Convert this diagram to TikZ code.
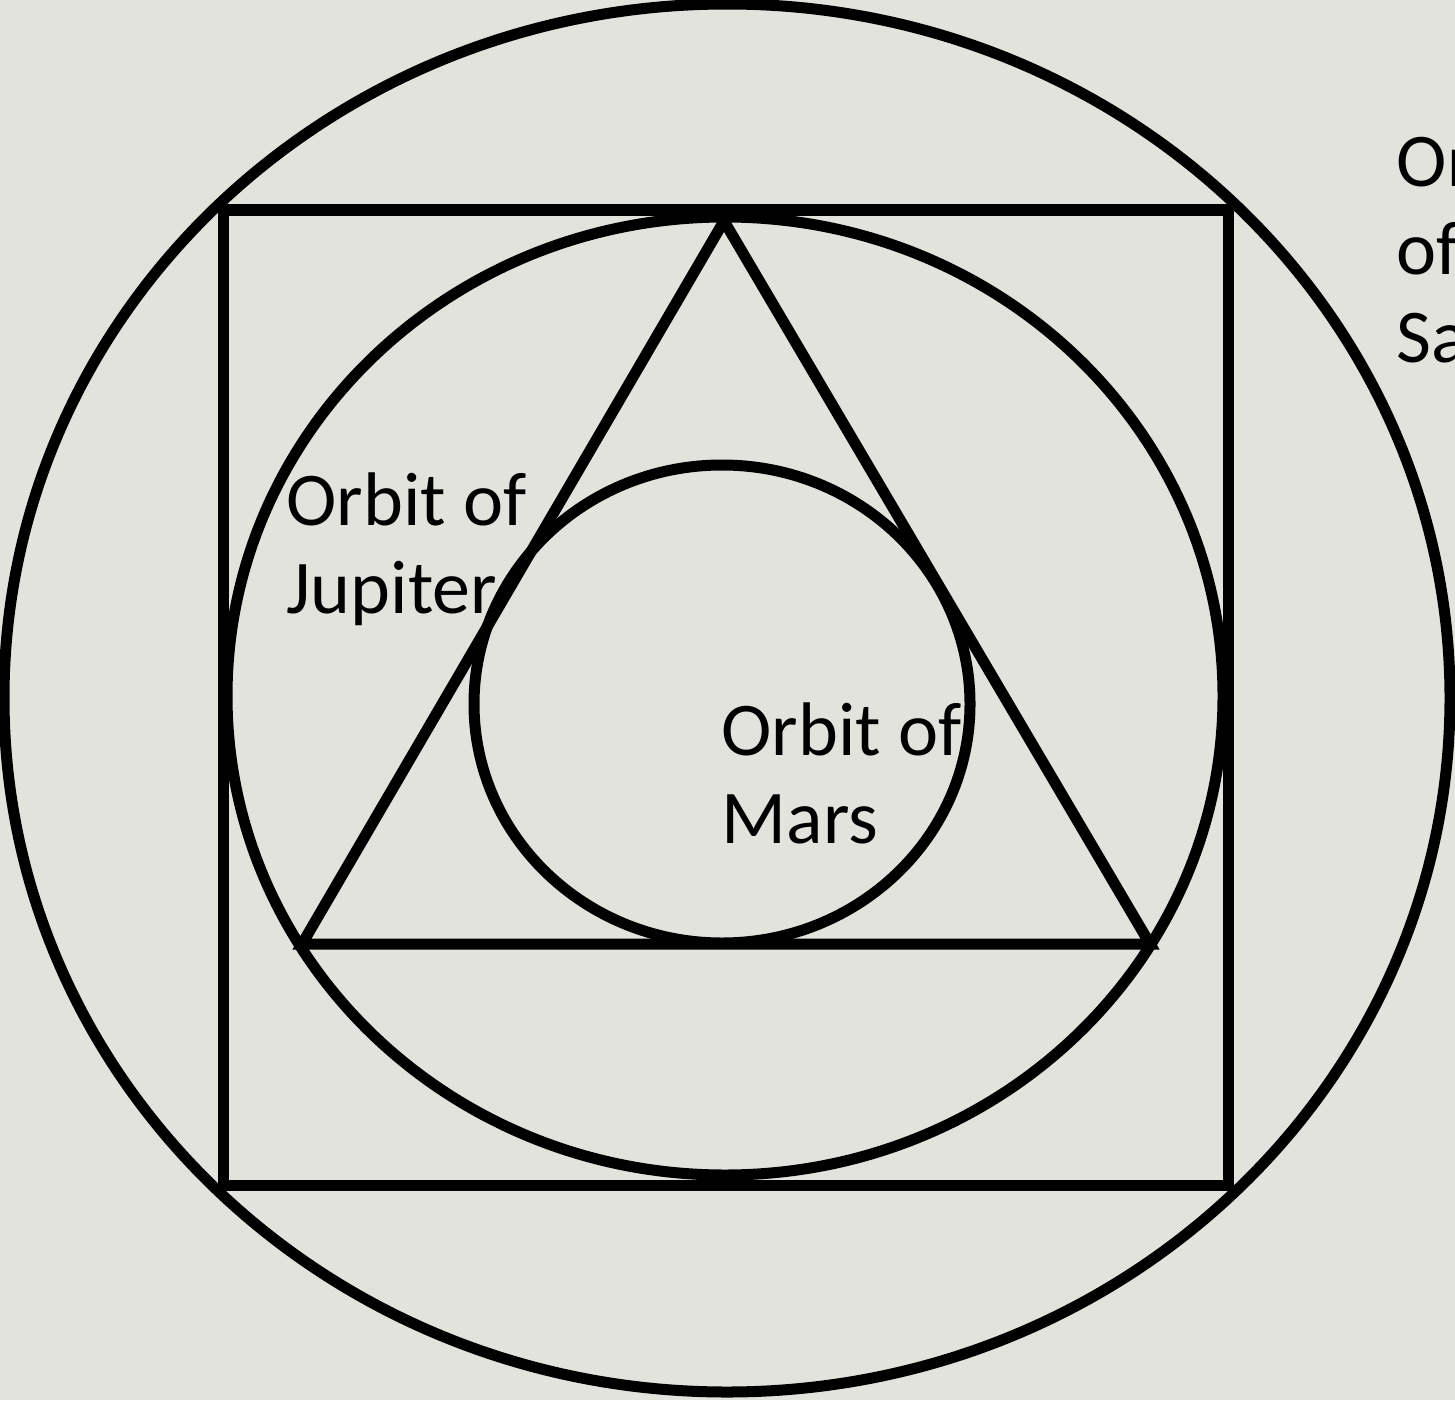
\documentclass[tikz,border=0pt]{standalone}
\usepackage{fontspec}
\setmainfont{Carlito}
\usepackage{xcolor}
\usepackage{tikz}
\usetikzlibrary{positioning}

\definecolor{paper}{RGB}{226,227,220}

\begin{document}
\begin{tikzpicture}[
    x=0.01cm, y=-0.01cm,
    orbit/.style={draw=black, line width=0.11cm},
    label/.style={anchor=base west, align=left, inner sep=0pt,
        font=\fontsize{21.6pt}{25pt}\selectfont},
]
    \useasboundingbox (0,0) rectangle (1455,1400);
    \fill[paper] (0,0) rectangle (1455,1400);
    \clip (0,0) rectangle (1455,1400);

    \draw[orbit] (727,698) ellipse [x radius=723, y radius=694];
    \draw[orbit] (223,210) rectangle (1228,1185);
    \draw[orbit] (725,696) ellipse [x radius=498, y radius=479];
    \draw[orbit] (724,221) -- (1150,944) -- (302,944) -- cycle;
    \draw[orbit] (722,704) ellipse [x radius=248, y radius=239];

    \node[label] (jupiter) at (286,613) {Orbit of\\Jupiter};
    \node[label] (mars) at (721,843) {Orbit of\\Mars};
    \node[label] (saturn) at (1396,362) {Orbit\\of\\Saturn};
\end{tikzpicture}
\end{document}
